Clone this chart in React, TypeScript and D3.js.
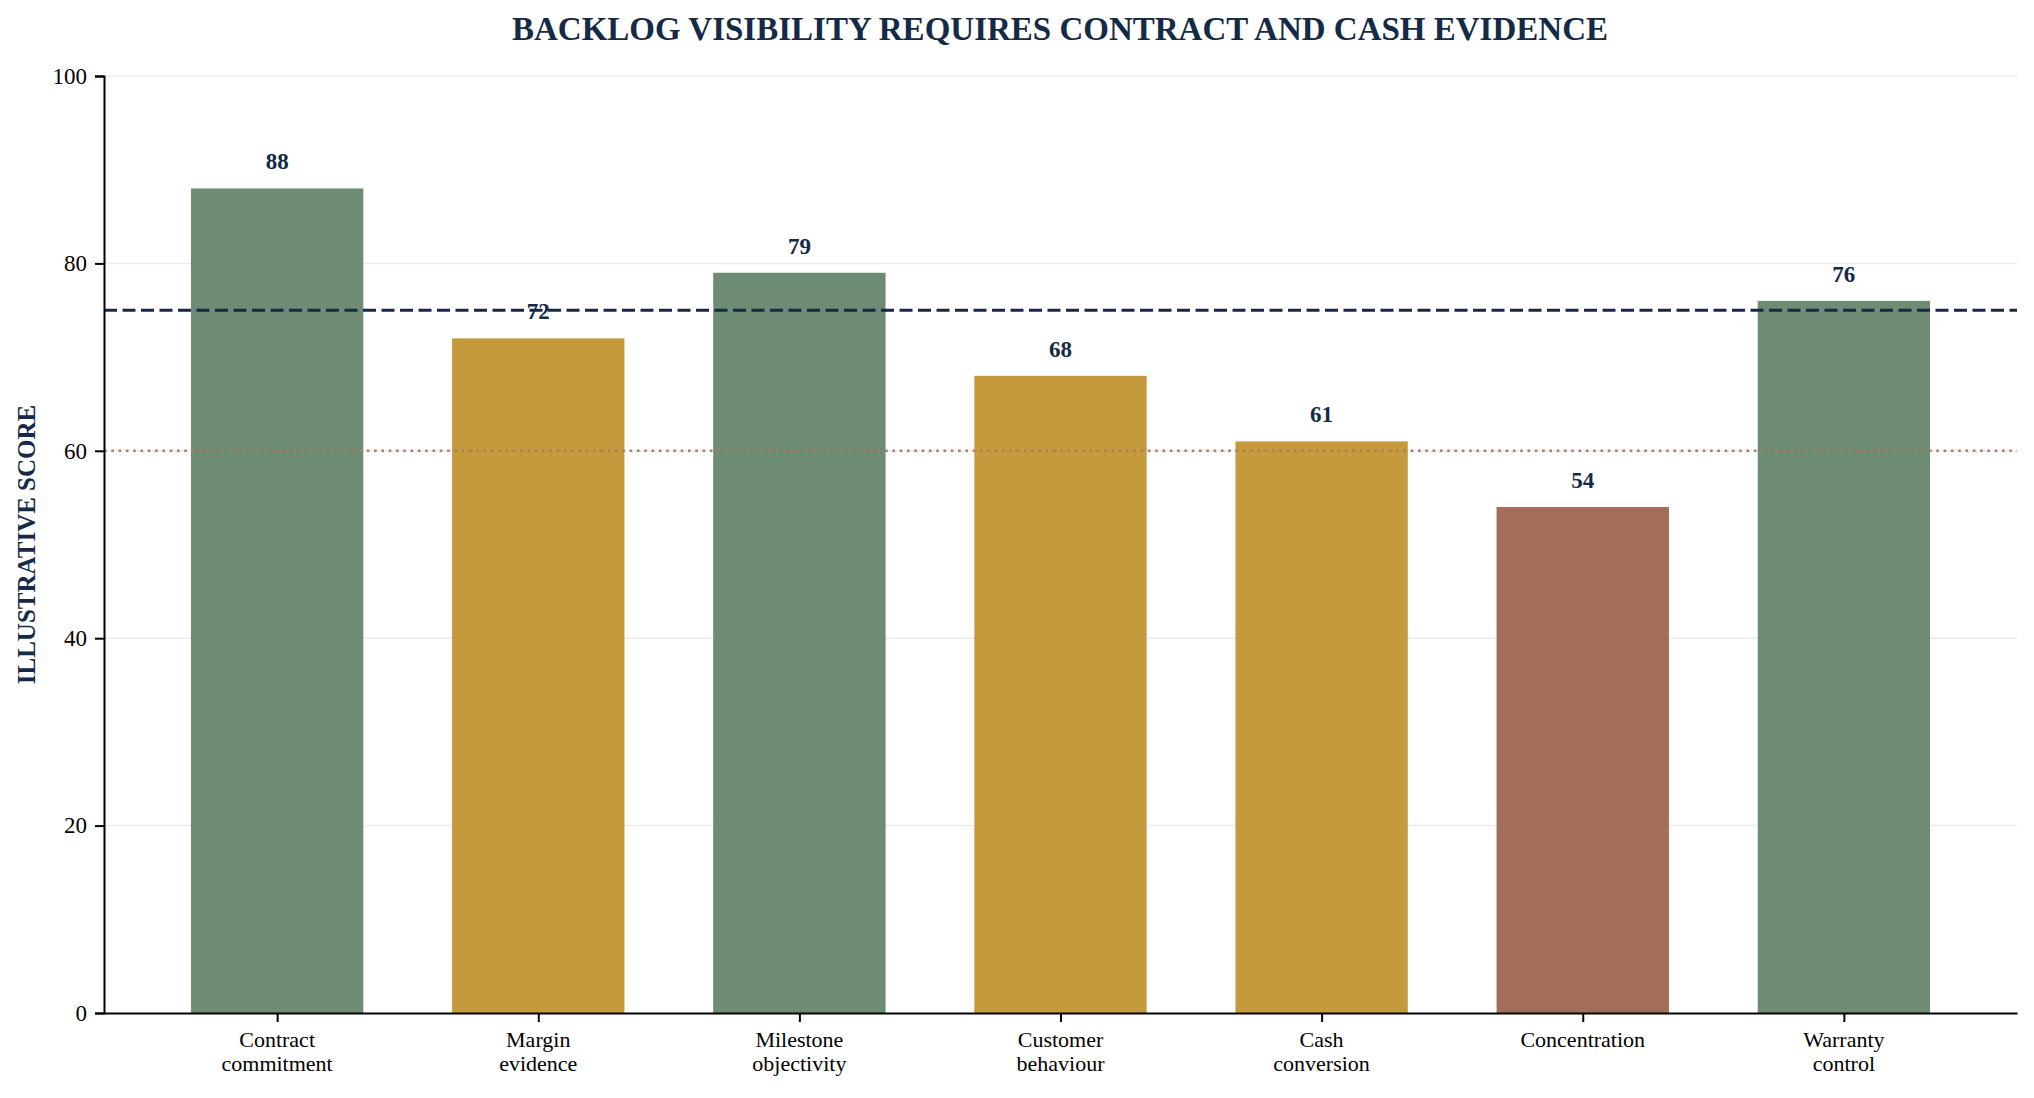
import * as d3 from "d3";
import { useEffect, useRef } from "react";

const categories = [
    "Contract\ncommitment",
    "Margin\nevidence",
    "Milestone\nobjectivity",
    "Customer\nbehaviour",
    "Cash\nconversion",
    "Concentration",
    "Warranty\ncontrol",
];
const scores = [88, 72, 79, 68, 61, 54, 76];
const tiers = ["strong", "watch", "strong", "watch", "watch", "weak", "strong"];
const yTicks = [0, 20, 40, 60, 80, 100];
const targetScore = 75;
const floorScore = 60;

const tierColor: Record<string, string> = {
    strong: "#6e8b74",
    watch: "#c59a3c",
    weak: "#a36d5b",
};

const NAVY = "#142a46";
const FONT = "'Liberation Serif', 'Times New Roman', serif";

export default function App() {
    const svgRef = useRef<SVGSVGElement | null>(null);
    const width = 2034;
    const height = 1098;

    useEffect(() => {
        document.body.style.margin = "0";
        const svg = d3.select(svgRef.current);
        svg.selectAll("*").remove();

        const left = 104;
        const right = 2017;
        const top = 76;
        const bottom = 1013;
        const barWidth = 0.66;

        // matplotlib-like margins around the bars
        const x = d3
            .scaleLinear()
            .domain([-0.663, categories.length - 1 + 0.663])
            .range([left, right]);
        const y = d3.scaleLinear().domain([0, 100]).range([bottom, top]);

        svg.append("rect").attr("width", width).attr("height", height).attr("fill", "#fff");

        // Title
        svg.append("text")
            .attr("x", (512 + 1608) / 2)
            .attr("y", 40)
            .attr("text-anchor", "middle")
            .attr("font-family", FONT)
            .attr("font-weight", "bold")
            .attr("font-size", 33)
            .attr("fill", NAVY)
            .text("BACKLOG VISIBILITY REQUIRES CONTRACT AND CASH EVIDENCE");

        // Grid
        svg.append("g")
            .selectAll("line")
            .data(yTicks.filter((t) => t > 0))
            .enter()
            .append("line")
            .attr("x1", left)
            .attr("x2", right)
            .attr("y1", (d) => y(d))
            .attr("y2", (d) => y(d))
            .attr("stroke", "#ececec")
            .attr("stroke-width", 1.5);

        // Bars
        svg.append("g")
            .selectAll("rect")
            .data(scores)
            .enter()
            .append("rect")
            .attr("x", (_, i) => x(i - barWidth / 2))
            .attr("width", x(barWidth) - x(0))
            .attr("y", (d) => y(d))
            .attr("height", (d) => bottom - y(d))
            .attr("fill", (_, i) => tierColor[tiers[i]]);

        // Reference lines
        svg.append("line")
            .attr("x1", left)
            .attr("x2", right)
            .attr("y1", y(floorScore))
            .attr("y2", y(floorScore))
            .attr("stroke", "#b27a67")
            .attr("stroke-width", 2.6)
            .attr("stroke-dasharray", "2.6 4.7");

        svg.append("line")
            .attr("x1", left)
            .attr("x2", right)
            .attr("y1", y(targetScore))
            .attr("y2", y(targetScore))
            .attr("stroke", NAVY)
            .attr("stroke-width", 3.2)
            .attr("stroke-dasharray", "13 5.5");

        // Value labels
        svg.append("g")
            .selectAll("text")
            .data(scores)
            .enter()
            .append("text")
            .attr("x", (_, i) => x(i))
            .attr("y", (d) => y(d) - 19)
            .attr("text-anchor", "middle")
            .attr("font-family", FONT)
            .attr("font-weight", "bold")
            .attr("font-size", 23)
            .attr("fill", NAVY)
            .text((d) => d);

        // Y axis
        const yAxis = svg
            .append("g")
            .attr("transform", `translate(${left},0)`)
            .call(d3.axisLeft(y).tickValues(yTicks).tickSize(9).tickPadding(8));
        yAxis.select(".domain").attr("stroke", "#000").attr("stroke-width", 2);
        yAxis.selectAll(".tick line").attr("stroke", "#000").attr("stroke-width", 2);
        yAxis.selectAll(".tick text")
            .attr("font-family", FONT)
            .attr("font-size", 23)
            .attr("fill", "#000");

        // X axis
        const xAxis = svg
            .append("g")
            .attr("transform", `translate(0,${bottom})`)
            .call(
                d3
                    .axisBottom(x)
                    .tickValues(d3.range(categories.length))
                    .tickSize(9)
                    .tickSizeOuter(0)
                    .tickFormat(() => "")
            );
        xAxis.select(".domain").attr("stroke", "#000").attr("stroke-width", 2);
        xAxis.selectAll(".tick line").attr("stroke", "#000").attr("stroke-width", 2);

        const catLabels = svg
            .append("g")
            .selectAll("text")
            .data(categories)
            .enter()
            .append("text")
            .attr("text-anchor", "middle")
            .attr("font-family", FONT)
            .attr("font-size", 22)
            .attr("fill", "#000");
        catLabels.each(function (d, i) {
            const lines = d.split("\n");
            d3.select(this)
                .selectAll("tspan")
                .data(lines)
                .enter()
                .append("tspan")
                .attr("x", x(i))
                .attr("y", (_, j) => 1047 + j * 24)
                .text((l) => l);
        });

        // Y label
        svg.append("text")
            .attr("transform", `translate(35,${(top + bottom) / 2}) rotate(-90)`)
            .attr("text-anchor", "middle")
            .attr("font-family", FONT)
            .attr("font-weight", "bold")
            .attr("font-size", 25)
            .attr("fill", NAVY)
            .text("ILLUSTRATIVE SCORE");
    }, []);

    return <svg ref={svgRef} width={width} height={height} style={{ display: "block" }}></svg>;
}
